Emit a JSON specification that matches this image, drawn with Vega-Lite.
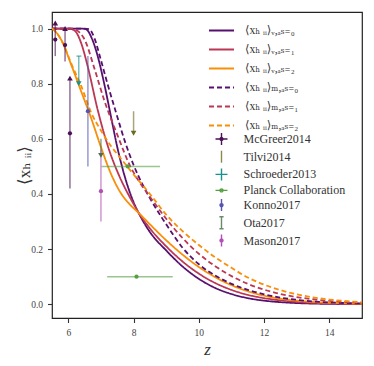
{
  "$schema": "https://vega.github.io/schema/vega-lite/v6.json",
  "width": 310,
  "height": 306,
  "autosize": "none",
  "padding": {"left": 52, "top": 12, "right": 12, "bottom": 48},
  "background": "white",
  "config": {
    "view": {"stroke": "#222", "strokeWidth": 1.2},
    "font": "Liberation Serif, DejaVu Serif",
    "axis": {"grid": false, "domain": false, "tickColor": "#333", "tickSize": 4.5, "tickWidth": 1.1, "labelFont": "Liberation Serif", "labelFontSize": 9.5, "labelColor": "#444", "labelPadding": 5, "titleFont": "Liberation Serif, DejaVu Serif", "titleFontWeight": "normal", "titleColor": "#333"},
    "legend": {"labelFont": "Liberation Serif, DejaVu Serif", "labelColor": "#333", "padding": 0, "title": null}
  },
  "datasets": {
    "curves": [
      {"z": 5.5, "x": 1, "s": "V0"}, {"z": 6.0, "x": 1, "s": "V0"}, {"z": 6.4, "x": 1, "s": "V0"}, {"z": 6.55, "x": 0.997, "s": "V0"}, {"z": 6.7, "x": 0.97, "s": "V0"}, {"z": 6.9, "x": 0.9, "s": "V0"}, {"z": 7.1, "x": 0.8, "s": "V0"}, {"z": 7.3, "x": 0.685, "s": "V0"}, {"z": 7.5, "x": 0.57, "s": "V0"}, {"z": 7.75, "x": 0.455, "s": "V0"}, {"z": 8.0, "x": 0.37, "s": "V0"}, {"z": 8.25, "x": 0.31, "s": "V0"}, {"z": 8.5, "x": 0.262, "s": "V0"}, {"z": 9.0, "x": 0.195, "s": "V0"}, {"z": 9.5, "x": 0.137, "s": "V0"}, {"z": 10.0, "x": 0.092, "s": "V0"}, {"z": 10.5, "x": 0.059, "s": "V0"}, {"z": 11.0, "x": 0.037, "s": "V0"}, {"z": 11.5, "x": 0.022, "s": "V0"}, {"z": 12.0, "x": 0.013, "s": "V0"}, {"z": 12.5, "x": 0.0075, "s": "V0"}, {"z": 13.0, "x": 0.0042, "s": "V0"}, {"z": 14.0, "x": 0.0012, "s": "V0"}, {"z": 15.0, "x": 0.0003, "s": "V0"},
      {"z": 5.5, "x": 1, "s": "V1"}, {"z": 6.0, "x": 1, "s": "V1"}, {"z": 6.1, "x": 0.998, "s": "V1"}, {"z": 6.25, "x": 0.985, "s": "V1"}, {"z": 6.4, "x": 0.945, "s": "V1"}, {"z": 6.6, "x": 0.86, "s": "V1"}, {"z": 6.9, "x": 0.705, "s": "V1"}, {"z": 7.2, "x": 0.578, "s": "V1"}, {"z": 7.6, "x": 0.455, "s": "V1"}, {"z": 7.9, "x": 0.385, "s": "V1"}, {"z": 8.15, "x": 0.333, "s": "V1"}, {"z": 8.5, "x": 0.275, "s": "V1"}, {"z": 9.0, "x": 0.21, "s": "V1"}, {"z": 9.5, "x": 0.155, "s": "V1"}, {"z": 10.0, "x": 0.111, "s": "V1"}, {"z": 10.5, "x": 0.077, "s": "V1"}, {"z": 11.0, "x": 0.052, "s": "V1"}, {"z": 11.5, "x": 0.034, "s": "V1"}, {"z": 12.0, "x": 0.022, "s": "V1"}, {"z": 12.5, "x": 0.014, "s": "V1"}, {"z": 13.0, "x": 0.0085, "s": "V1"}, {"z": 14.0, "x": 0.003, "s": "V1"}, {"z": 15.0, "x": 0.001, "s": "V1"},
      {"z": 5.5, "x": 1.0, "s": "V2"}, {"z": 5.6, "x": 0.99, "s": "V2"}, {"z": 5.8, "x": 0.955, "s": "V2"}, {"z": 6.1, "x": 0.865, "s": "V2"}, {"z": 6.4, "x": 0.77, "s": "V2"}, {"z": 6.7, "x": 0.675, "s": "V2"}, {"z": 7.0, "x": 0.57, "s": "V2"}, {"z": 7.3, "x": 0.475, "s": "V2"}, {"z": 7.6, "x": 0.405, "s": "V2"}, {"z": 7.9, "x": 0.36, "s": "V2"}, {"z": 8.15, "x": 0.332, "s": "V2"}, {"z": 8.5, "x": 0.29, "s": "V2"}, {"z": 9.0, "x": 0.232, "s": "V2"}, {"z": 9.5, "x": 0.18, "s": "V2"}, {"z": 10.0, "x": 0.135, "s": "V2"}, {"z": 10.5, "x": 0.098, "s": "V2"}, {"z": 11.0, "x": 0.069, "s": "V2"}, {"z": 11.5, "x": 0.047, "s": "V2"}, {"z": 12.0, "x": 0.031, "s": "V2"}, {"z": 12.5, "x": 0.02, "s": "V2"}, {"z": 13.0, "x": 0.013, "s": "V2"}, {"z": 14.0, "x": 0.005, "s": "V2"}, {"z": 15.0, "x": 0.002, "s": "V2"},
      {"z": 5.5, "x": 1, "s": "M0"}, {"z": 6.0, "x": 1, "s": "M0"}, {"z": 6.5, "x": 1, "s": "M0"}, {"z": 6.65, "x": 0.997, "s": "M0"}, {"z": 6.8, "x": 0.965, "s": "M0"}, {"z": 7.0, "x": 0.885, "s": "M0"}, {"z": 7.2, "x": 0.8, "s": "M0"}, {"z": 7.45, "x": 0.7, "s": "M0"}, {"z": 7.75, "x": 0.585, "s": "M0"}, {"z": 8.0, "x": 0.505, "s": "M0"}, {"z": 8.25, "x": 0.44, "s": "M0"}, {"z": 8.5, "x": 0.385, "s": "M0"}, {"z": 8.86, "x": 0.315, "s": "M0"}, {"z": 9.0, "x": 0.29, "s": "M0"}, {"z": 9.5, "x": 0.205, "s": "M0"}, {"z": 10.0, "x": 0.145, "s": "M0"}, {"z": 10.5, "x": 0.104, "s": "M0"}, {"z": 11.0, "x": 0.074, "s": "M0"}, {"z": 11.5, "x": 0.052, "s": "M0"}, {"z": 12.0, "x": 0.036, "s": "M0"}, {"z": 12.5, "x": 0.024, "s": "M0"}, {"z": 13.0, "x": 0.016, "s": "M0"}, {"z": 13.5, "x": 0.01, "s": "M0"}, {"z": 14.0, "x": 0.0065, "s": "M0"}, {"z": 15.0, "x": 0.0025, "s": "M0"},
      {"z": 5.5, "x": 1, "s": "M1"}, {"z": 6.0, "x": 1, "s": "M1"}, {"z": 6.2, "x": 0.997, "s": "M1"}, {"z": 6.35, "x": 0.985, "s": "M1"}, {"z": 6.5, "x": 0.96, "s": "M1"}, {"z": 6.8, "x": 0.855, "s": "M1"}, {"z": 7.1, "x": 0.74, "s": "M1"}, {"z": 7.5, "x": 0.615, "s": "M1"}, {"z": 7.9, "x": 0.5, "s": "M1"}, {"z": 8.2, "x": 0.44, "s": "M1"}, {"z": 8.5, "x": 0.39, "s": "M1"}, {"z": 9.0, "x": 0.31, "s": "M1"}, {"z": 9.5, "x": 0.24, "s": "M1"}, {"z": 10.0, "x": 0.183, "s": "M1"}, {"z": 10.5, "x": 0.138, "s": "M1"}, {"z": 11.0, "x": 0.102, "s": "M1"}, {"z": 11.5, "x": 0.074, "s": "M1"}, {"z": 12.0, "x": 0.053, "s": "M1"}, {"z": 12.5, "x": 0.037, "s": "M1"}, {"z": 13.0, "x": 0.026, "s": "M1"}, {"z": 13.5, "x": 0.018, "s": "M1"}, {"z": 14.0, "x": 0.012, "s": "M1"}, {"z": 15.0, "x": 0.005, "s": "M1"},
      {"z": 5.5, "x": 1.0, "s": "M2"}, {"z": 5.6, "x": 0.99, "s": "M2"}, {"z": 5.8, "x": 0.955, "s": "M2"}, {"z": 6.1, "x": 0.87, "s": "M2"}, {"z": 6.4, "x": 0.79, "s": "M2"}, {"z": 6.7, "x": 0.695, "s": "M2"}, {"z": 7.0, "x": 0.63, "s": "M2"}, {"z": 7.3, "x": 0.575, "s": "M2"}, {"z": 7.6, "x": 0.53, "s": "M2"}, {"z": 7.95, "x": 0.478, "s": "M2"}, {"z": 8.5, "x": 0.4, "s": "M2"}, {"z": 9.0, "x": 0.325, "s": "M2"}, {"z": 9.5, "x": 0.265, "s": "M2"}, {"z": 10.0, "x": 0.215, "s": "M2"}, {"z": 10.5, "x": 0.17, "s": "M2"}, {"z": 11.0, "x": 0.132, "s": "M2"}, {"z": 11.5, "x": 0.097, "s": "M2"}, {"z": 12.0, "x": 0.071, "s": "M2"}, {"z": 12.5, "x": 0.051, "s": "M2"}, {"z": 13.0, "x": 0.036, "s": "M2"}, {"z": 13.5, "x": 0.025, "s": "M2"}, {"z": 14.0, "x": 0.017, "s": "M2"}, {"z": 15.0, "x": 0.007, "s": "M2"}
    ],
    "vbars": [
      {"obs": "McGreer2014", "z": 5.6, "lo": 0.9, "hi": 1.02},
      {"obs": "McGreer2014", "z": 5.9, "lo": 0.88, "hi": 1.0},
      {"obs": "McGreer2014", "z": 6.05, "lo": 0.42, "hi": 0.82},
      {"obs": "Tilvi2014", "z": 8.0, "lo": 0.62, "hi": 0.7},
      {"obs": "Schroeder2013", "z": 6.32, "lo": 0.8, "hi": 0.9},
      {"obs": "Konno2017", "z": 6.6, "lo": 0.5, "hi": 0.9},
      {"obs": "Ota2017", "z": 7.0, "lo": 0.54, "hi": 0.6},
      {"obs": "Mason2017", "z": 7.0, "lo": 0.3, "hi": 0.56}
    ],
    "hbars": [
      {"obs": "Schroeder2013", "x": 0.9, "zlo": 6.25, "zhi": 6.4},
      {"obs": "Planck Collaboration", "x": 0.5, "zlo": 7.02, "zhi": 8.81},
      {"obs": "Planck Collaboration", "x": 0.1, "zlo": 7.19, "zhi": 9.2}
    ],
    "dots": [
      {"obs": "McGreer2014", "z": 5.6, "x": 0.96},
      {"obs": "McGreer2014", "z": 5.9, "x": 0.94},
      {"obs": "McGreer2014", "z": 6.05, "x": 0.62},
      {"obs": "Konno2017", "z": 6.6, "x": 0.7},
      {"obs": "Mason2017", "z": 7.0, "x": 0.41},
      {"obs": "Planck Collaboration", "z": 7.82, "x": 0.5},
      {"obs": "Planck Collaboration", "z": 8.09, "x": 0.1}
    ],
    "uplims": [
      {"obs": "McGreer2014", "z": 5.6, "x": 1.02},
      {"obs": "McGreer2014", "z": 5.9, "x": 1.0},
      {"obs": "McGreer2014", "z": 6.05, "x": 0.82}
    ],
    "downlims": [
      {"obs": "Tilvi2014", "z": 8.0, "x": 0.62},
      {"obs": "Schroeder2013", "z": 6.32, "x": 0.8},
      {"obs": "Ota2017", "z": 7.0, "x": 0.54}
    ],
    "obsnames": [
      {"obs": "McGreer2014"}, {"obs": "Tilvi2014"}, {"obs": "Schroeder2013"}, {"obs": "Planck Collaboration"}, {"obs": "Konno2017"}, {"obs": "Ota2017"}, {"obs": "Mason2017"}
    ]
  },
  "layer": [
    {
      "data": {"name": "curves"},
      "mark": {"type": "line", "strokeWidth": 1.8, "interpolate": "monotone", "clip": true},
      "encoding": {
        "x": {"field": "z", "type": "quantitative", "scale": {"domain": [5.5, 15], "nice": false, "zero": false}, "axis": {"values": [6, 8, 10, 12, 14], "format": "d", "title": "z", "titleFontStyle": "italic", "titleFontSize": 17, "titlePadding": 4}},
        "y": {"field": "x", "type": "quantitative", "scale": {"domain": [-0.05, 1.06], "nice": false, "zero": false}, "axis": {"values": [0, 0.2, 0.4, 0.6, 0.8, 1.0], "format": ".1f", "title": "⟨xₕ ᵢᵢ⟩", "titleFontSize": 17, "titlePadding": -3}},
        "color": {"field": "s", "type": "nominal", "scale": {"domain": ["V0", "V1", "V2", "M0", "M1", "M2"], "range": ["#57106e", "#bc3754", "#f98e09", "#57106e", "#bc3754", "#f98e09"]},
          "legend": {"orient": "none", "legendX": 156, "legendY": 5, "symbolType": "stroke", "symbolSize": 625, "symbolStrokeWidth": 1.8, "labelFontSize": 11.5, "labelOffset": 10, "rowPadding": -0.7,
            "labelExpr": "{'V0': '⟨xₕ ᵢᵢ⟩ᵥ,ₐₛ₌₀', 'V1': '⟨xₕ ᵢᵢ⟩ᵥ,ₐₛ₌₁', 'V2': '⟨xₕ ᵢᵢ⟩ᵥ,ₐₛ₌₂', 'M0': '⟨xₕ ᵢᵢ⟩ₘ,ₐₛ₌₀', 'M1': '⟨xₕ ᵢᵢ⟩ₘ,ₐₛ₌₁', 'M2': '⟨xₕ ᵢᵢ⟩ₘ,ₐₛ₌₂'}[datum.value]"}},
        "strokeDash": {"field": "s", "type": "nominal", "scale": {"domain": ["V0", "V1", "V2", "M0", "M1", "M2"], "range": [[1, 0], [1, 0], [1, 0], [5, 3], [5, 3], [5, 3]]}}
      }
    },
    {
      "data": {"name": "vbars"},
      "mark": {"type": "rule", "strokeWidth": 1.5, "opacity": 0.6},
      "encoding": {
        "x": {"field": "z", "type": "quantitative"},
        "y": {"field": "lo", "type": "quantitative"},
        "y2": {"field": "hi"},
        "color": {"field": "obs", "type": "nominal", "legend": null, "scale": {"domain": ["McGreer2014", "Tilvi2014", "Schroeder2013", "Planck Collaboration", "Konno2017", "Ota2017", "Mason2017"], "range": ["#4b1155", "#6b6b24", "#17928f", "#56a043", "#5555b0", "#4a6e50", "#b050b5"]}}
      }
    },
    {
      "data": {"name": "hbars"},
      "mark": {"type": "rule", "strokeWidth": 1.5, "opacity": 0.6},
      "encoding": {
        "x": {"field": "zlo", "type": "quantitative"},
        "x2": {"field": "zhi"},
        "y": {"field": "x", "type": "quantitative"},
        "color": {"field": "obs", "type": "nominal", "legend": null, "scale": {"domain": ["McGreer2014", "Tilvi2014", "Schroeder2013", "Planck Collaboration", "Konno2017", "Ota2017", "Mason2017"], "range": ["#4b1155", "#6b6b24", "#17928f", "#56a043", "#5555b0", "#4a6e50", "#b050b5"]}}
      }
    },
    {
      "data": {"name": "dots"},
      "mark": {"type": "point", "filled": true, "size": 18, "opacity": 1},
      "encoding": {
        "x": {"field": "z", "type": "quantitative"},
        "y": {"field": "x", "type": "quantitative"},
        "color": {"field": "obs", "type": "nominal", "legend": null, "scale": {"domain": ["McGreer2014", "Tilvi2014", "Schroeder2013", "Planck Collaboration", "Konno2017", "Ota2017", "Mason2017"], "range": ["#4b1155", "#6b6b24", "#17928f", "#56a043", "#5555b0", "#4a6e50", "#b050b5"]}}
      }
    },
    {
      "data": {"name": "uplims"},
      "mark": {"type": "point", "filled": true, "size": 32, "shape": "triangle-up", "opacity": 1},
      "encoding": {
        "x": {"field": "z", "type": "quantitative"},
        "y": {"field": "x", "type": "quantitative"},
        "color": {"field": "obs", "type": "nominal", "legend": null, "scale": {"domain": ["McGreer2014", "Tilvi2014", "Schroeder2013", "Planck Collaboration", "Konno2017", "Ota2017", "Mason2017"], "range": ["#4b1155", "#6b6b24", "#17928f", "#56a043", "#5555b0", "#4a6e50", "#b050b5"]}}
      }
    },
    {
      "data": {"name": "downlims"},
      "mark": {"type": "point", "filled": true, "size": 32, "shape": "triangle-down", "opacity": 1},
      "encoding": {
        "x": {"field": "z", "type": "quantitative"},
        "y": {"field": "x", "type": "quantitative"},
        "color": {"field": "obs", "type": "nominal", "legend": null, "scale": {"domain": ["McGreer2014", "Tilvi2014", "Schroeder2013", "Planck Collaboration", "Konno2017", "Ota2017", "Mason2017"], "range": ["#4b1155", "#6b6b24", "#17928f", "#56a043", "#5555b0", "#4a6e50", "#b050b5"]}}
      }
    },
    {
      "data": {"name": "obsnames"},
      "mark": {"type": "point", "filled": false, "opacity": 0, "strokeWidth": 1.5},
      "encoding": {
        "color": {"field": "obs", "type": "nominal", "scale": {"domain": ["McGreer2014", "Tilvi2014", "Schroeder2013", "Planck Collaboration", "Konno2017", "Ota2017", "Mason2017"], "range": ["#4b1155", "#8a8a4a", "#17928f", "#56a043", "#5555b0", "#6a8a70", "#b050b5"]},
          "legend": {"orient": "none", "legendX": 162.5, "legendY": 120, "symbolSize": 144, "symbolOpacity": 1, "symbolStrokeWidth": 1.4, "labelFontSize": 12, "labelOffset": 15, "rowPadding": -0.3}},
        "shape": {"field": "obs", "type": "nominal", "scale": {"domain": ["McGreer2014", "Tilvi2014", "Schroeder2013", "Planck Collaboration", "Konno2017", "Ota2017", "Mason2017"],
          "range": ["M0,-1V1M-1,0H1M-0.25,0A0.25,0.25,0,1,0,0.25,0A0.25,0.25,0,1,0,-0.25,0", "M0,-1V1", "M0,-1V1M-1,0H1", "M-1,0H1M-0.25,0A0.25,0.25,0,1,0,0.25,0A0.25,0.25,0,1,0,-0.25,0", "M0,-1V1M-0.25,0A0.25,0.25,0,1,0,0.25,0A0.25,0.25,0,1,0,-0.25,0", "M0,-1V1M-0.35,-1H0.35M-0.35,1H0.35", "M0,-1V1M-0.25,0A0.25,0.25,0,1,0,0.25,0A0.25,0.25,0,1,0,-0.25,0"]}}
      }
    }
  ],
  "resolve": {"scale": {"color": "independent", "shape": "independent", "strokeDash": "independent"}}
}
